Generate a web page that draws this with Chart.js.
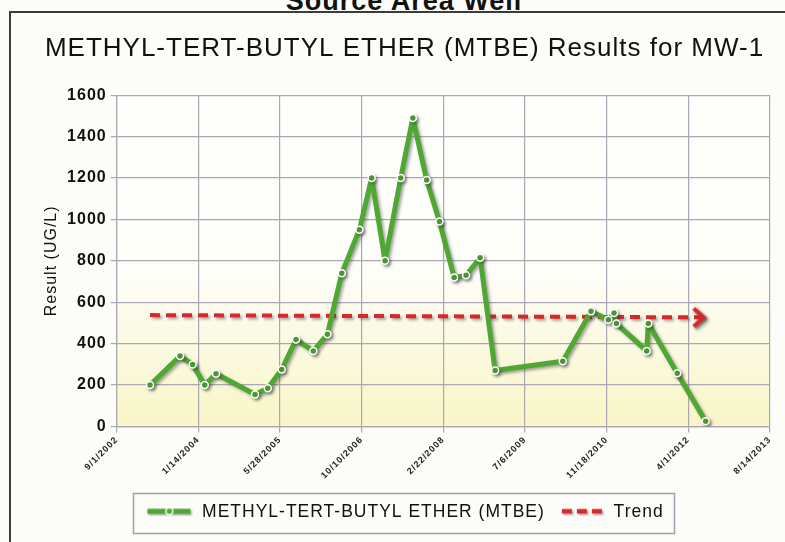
<!DOCTYPE html>
<html>
<head>
<meta charset="utf-8">
<script src="https://cdn.jsdelivr.net/npm/chart.js@4.4.1/dist/chart.umd.min.js"></script>
<style>
  html, body { margin: 0; padding: 0; background: #fcfcf8; }
  body { width: 785px; height: 542px; overflow: hidden; position: relative; }
  #header {
    position: absolute; left: 0; width: 808px; top: -12px;
    text-align: center; color: #111; letter-spacing: 1px;
    font: bold 27px/27px "Liberation Sans", Arial, sans-serif;
  }
  #frame {
    position: absolute; left: 9px; top: 11px; right: -5px; bottom: -5px;
    border-top: 2px solid #3c3c3c; border-left: 2px solid #3c3c3c;
  }
  #chartBox { position: absolute; left: 0; top: 0; width: 785px; height: 542px; }
</style>
</head>
<body>
<div id="header">Source Area Well</div>
<div id="frame"></div>
<div id="chartBox"><canvas id="mtbeChart" width="785" height="542"></canvas></div>
<script>
// sample dates and MTBE results
const sampleDates = [
  "3/24/2003", "9/24/2003", "12/10/2003", "2/22/2004", "5/1/2004",
  "12/26/2004", "3/14/2005", "6/7/2005", "9/3/2005", "12/18/2005",
  "3/14/2006", "6/10/2006", "9/26/2006", "12/10/2006", "3/2/2007",
  "6/6/2007", "8/19/2007", "11/12/2007", "1/29/2008", "4/28/2008",
  "7/10/2008", "10/4/2008", "1/4/2009", "2/22/2010", "8/14/2010",
  "11/28/2010", "1/2/2011", "1/17/2011", "7/21/2011", "7/31/2011",
  "1/24/2012", "7/16/2012"
];
const mtbeResults = [
  200, 340, 300, 200, 255,
  155, 185, 275, 420, 365,
  445, 740, 950, 1200, 800,
  1200, 1490, 1190, 990, 720,
  730, 815, 270, 315, 556,
  515, 548, 497, 365, 497,
  257, 25
];
const trendDates = ["3/24/2003", "7/16/2012"];
const trendValues = [538, 527];

const xTickLabels = [
  "9/1/2002", "1/14/2004", "5/28/2005", "10/10/2006", "2/22/2008",
  "7/6/2009", "11/18/2010", "4/1/2012", "8/14/2013"
];
const yTickStep = 200;
const yMax = 1600;

const seriesLabel = "METHYL-TERT-BUTYL ETHER (MTBE)";
const trendLabel = "Trend";

const GREEN = "#4ea832";
const RED = "#d9272b";
const GRID = "#aba7b2";
const FONT = "'Liberation Sans', Arial, sans-serif";

// Excel style day numbers, so the axis steps of 500 days line up
const EXCEL_EPOCH = Date.UTC(1899, 11, 30);
const DAY_MS = 86400000;

function toSerial(text) {
  const [m, d, y] = text.split("/").map(Number);
  return Math.round((Date.UTC(y, m - 1, d) - EXCEL_EPOCH) / DAY_MS);
}

const xMin = toSerial(xTickLabels[0]);
const xMax = toSerial(xTickLabels[xTickLabels.length - 1]);
const xStep = (xMax - xMin) / (xTickLabels.length - 1);

function makeSeriesIcon() {
  const c = document.createElement("canvas");
  c.width = 48; c.height = 16;
  const g = c.getContext("2d");
  g.shadowColor = "rgba(60,60,60,0.45)";
  g.shadowBlur = 2; g.shadowOffsetX = 1.5; g.shadowOffsetY = 1.5;
  g.strokeStyle = GREEN; g.lineWidth = 5;
  g.beginPath(); g.moveTo(2, 7); g.lineTo(45, 7); g.stroke();
  g.shadowColor = "transparent";
  g.fillStyle = GREEN; g.strokeStyle = "#fff"; g.lineWidth = 1.5;
  g.beginPath(); g.arc(24, 7, 3.5, 0, Math.PI * 2); g.fill(); g.stroke();
  return c;
}

function makeTrendIcon() {
  const c = document.createElement("canvas");
  c.width = 48; c.height = 16;
  const g = c.getContext("2d");
  g.shadowColor = "rgba(60,60,60,0.45)";
  g.shadowBlur = 2; g.shadowOffsetX = 1.5; g.shadowOffsetY = 1.5;
  g.strokeStyle = RED; g.lineWidth = 4.5;
  g.setLineDash([10, 5]);
  g.beginPath(); g.moveTo(5, 7); g.lineTo(45, 7); g.stroke();
  return c;
}

function makeChevron() {
  const c = document.createElement("canvas");
  c.width = 44; c.height = 30;
  const g = c.getContext("2d");
  g.shadowColor = "rgba(60,60,60,0.45)";
  g.shadowBlur = 2; g.shadowOffsetX = 1.5; g.shadowOffsetY = 1.5;
  g.strokeStyle = RED; g.lineWidth = 4;
  g.beginPath(); g.moveTo(10, 6); g.lineTo(20, 15); g.lineTo(10, 24); g.stroke();
  return c;
}

const legendIcons = [makeSeriesIcon(), makeTrendIcon()];
const chevron = makeChevron();

const spacingPlugin = {
  id: "spacing",
  afterInit(chart) { chart.ctx.letterSpacing = "1px"; },
  beforeUpdate(chart) { chart.ctx.letterSpacing = "1px"; }
};

const paperPlugin = {
  id: "paper",
  beforeDraw(chart) {
    const { ctx, chartArea: a } = chart;
    const g = ctx.createLinearGradient(0, a.top, 0, a.bottom);
    g.addColorStop(0, "rgba(255,255,255,0.6)");
    g.addColorStop(0.55, "rgba(255,255,250,0.6)");
    g.addColorStop(0.68, "rgba(251,248,215,0.5)");
    g.addColorStop(0.86, "rgba(249,245,190,0.6)");
    g.addColorStop(1, "rgba(247,242,178,0.7)");
    ctx.save();
    ctx.fillStyle = g;
    ctx.fillRect(a.left, a.top, a.width, a.height);
    ctx.restore();
  }
};

const shadowPlugin = {
  id: "shadow",
  beforeDatasetDraw(chart) {
    const ctx = chart.ctx;
    ctx.save();
    ctx.shadowColor = "rgba(60,60,60,0.45)";
    ctx.shadowBlur = 3;
    ctx.shadowOffsetX = 2;
    ctx.shadowOffsetY = 2;
  },
  afterDatasetDraw(chart) { chart.ctx.restore(); }
};

const legendBoxPlugin = {
  id: "legendBox",
  afterDraw(chart) {
    const boxes = chart.legend.legendHitBoxes;
    if (!boxes || !boxes.length) return;
    const left = Math.min(...boxes.map((b) => b.left)) - 12;
    const right = Math.max(...boxes.map((b) => b.left + b.width)) + 11;
    const top = Math.min(...boxes.map((b) => b.top)) - 11;
    const bottom = Math.max(...boxes.map((b) => b.top + b.height)) + 11;
    const ctx = chart.ctx;
    ctx.save();
    ctx.strokeStyle = "#a49db2";
    ctx.lineWidth = 1.5;
    ctx.strokeRect(Math.round(left) + 0.5, Math.round(top) + 0.5, Math.round(right - left), Math.round(bottom - top));
    ctx.restore();
  }
};

new Chart(document.getElementById("mtbeChart"), {
  type: "line",
  data: {
    datasets: [
      {
        label: seriesLabel,
        data: sampleDates.map((d, i) => ({ x: toSerial(d), y: mtbeResults[i] })),
        borderColor: GREEN,
        borderWidth: 5,
        borderJoinStyle: "round",
        borderCapStyle: "round",
        backgroundColor: GREEN,
        pointBackgroundColor: GREEN,
        pointBorderColor: "#ffffff",
        pointBorderWidth: 1.5,
        pointRadius: 3.5,
        tension: 0,
        order: 1
      },
      {
        label: trendLabel,
        data: trendDates.map((d, i) => ({ x: toSerial(d), y: trendValues[i] })),
        borderColor: RED,
        borderWidth: 4,
        borderDash: [10, 6],
        pointRadius: (c) => (c.dataIndex === trendDates.length - 1 ? 10 : 0),
        pointStyle: (c) => (c.dataIndex === trendDates.length - 1 ? chevron : "circle"),
        tension: 0,
        order: 2
      }
    ]
  },
  options: {
    responsive: false,
    animation: false,
    layout: { padding: { left: 39, right: 15, top: 20, bottom: 11 } },
    scales: {
      x: {
        type: "linear",
        min: xMin,
        max: xMax,
        afterFit: (scale) => { scale.height = 65; },
        ticks: {
          stepSize: xStep,
          autoSkip: false,
          minRotation: 45,
          maxRotation: 45,
          padding: 2,
          color: "#222",
          font: { family: FONT, size: 9, weight: "bold" },
          callback: (value, index) => xTickLabels[index]
        },
        grid: { color: GRID, lineWidth: 1.2, tickLength: 6 },
        border: { color: GRID, width: 1.2 }
      },
      y: {
        min: 0,
        max: yMax,
        afterFit: (scale) => { scale.width = 116.7 - 39; },
        ticks: {
          stepSize: yTickStep,
          padding: 4,
          color: "#111",
          font: { family: FONT, size: 16, weight: "bold" },
          callback: (value) => String(value)
        },
        grid: { color: GRID, lineWidth: 1.2, tickLength: 6 },
        border: { color: GRID, width: 1.2 },
        title: {
          display: true,
          text: "Result (UG/L)",
          color: "#111",
          padding: { top: 3, bottom: 0 },
          font: { family: FONT, size: 16, weight: "normal" }
        }
      }
    },
    plugins: {
      title: {
        display: true,
        text: "METHYL-TERT-BUTYL ETHER (MTBE) Results for MW-1",
        color: "#111",
        padding: { top: 13, bottom: 31 },
        font: { family: FONT, size: 26, weight: "normal" }
      },
      legend: {
        position: "bottom",
        labels: {
          usePointStyle: true,
          pointStyleWidth: 48,
          padding: 12,
          color: "#111",
          font: { family: FONT, size: 17.5 },
          generateLabels: (chart) => chart.data.datasets.map((ds, i) => ({
            text: ds.label,
            pointStyle: legendIcons[i],
            datasetIndex: i,
            hidden: false,
            fontColor: "#111",
            lineWidth: 0,
            strokeStyle: "transparent",
            fillStyle: "transparent"
          }))
        }
      },
      tooltip: { enabled: false }
    }
  },
  plugins: [spacingPlugin, paperPlugin, shadowPlugin, legendBoxPlugin]
});
</script>
</body>
</html>
